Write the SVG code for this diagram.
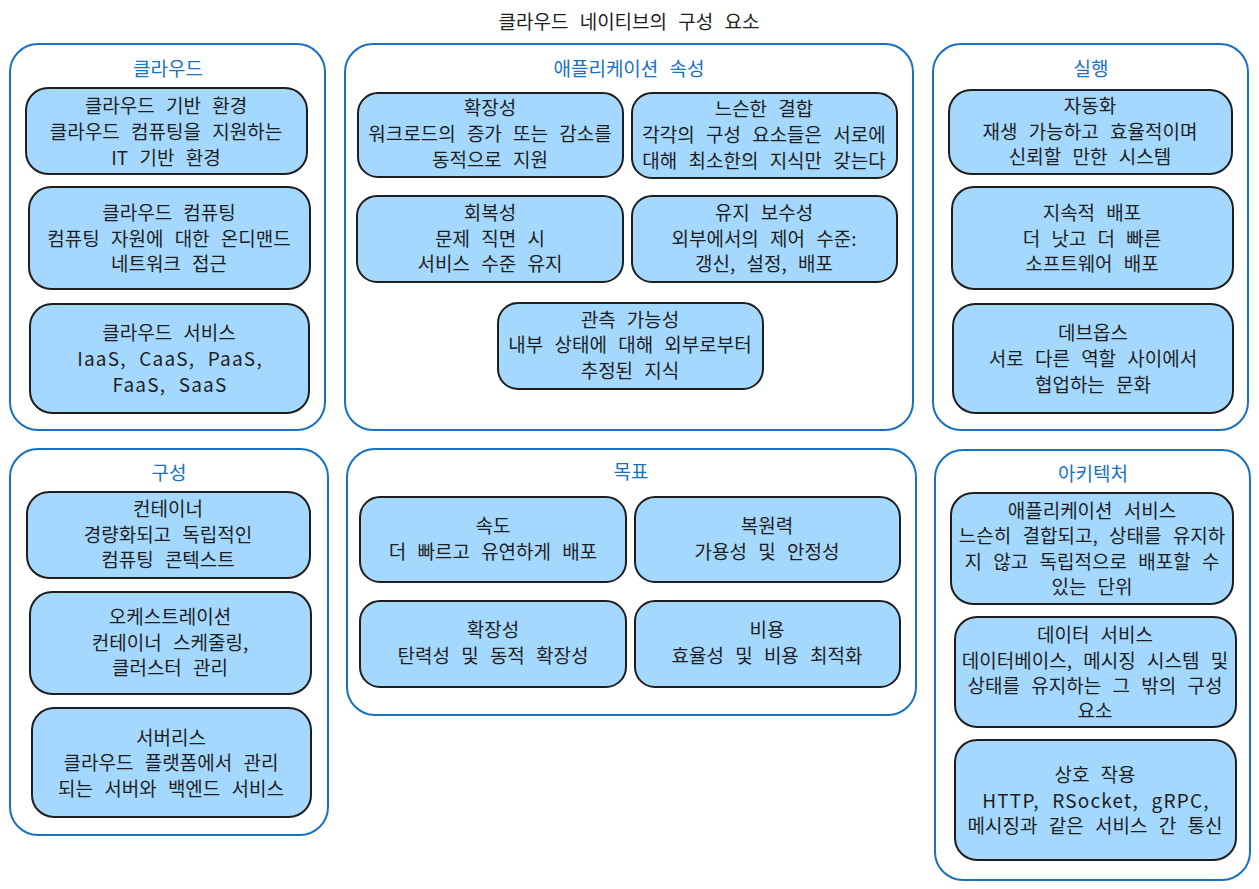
<svg xmlns="http://www.w3.org/2000/svg" width="1259" height="889" viewBox="0 0 1259 889">
<style>
.bg{fill:#ffffff}
.grp{fill:#ffffff;stroke:#1971c2;stroke-width:2}
.nd{fill:#a5d8ff;stroke:#1e1e1e;stroke-width:2}
text{font-family:"Noto Sans CJK KR","Noto Sans",sans-serif;font-size:19px;word-spacing:7px;fill:#1e1e1e;text-anchor:middle;dominant-baseline:central}
.gl{fill:#1971c2}
.lat{letter-spacing:1.2px}
</style>
<rect class="bg" x="0" y="0" width="1259" height="889"/>
<text x="629" y="20">클라우드 네이티브의 구성 요소</text>

<g id="grp-cloud">
<rect class="grp" x="10" y="44" width="315" height="386" rx="28"/>
<text class="gl" x="168" y="67">클라우드</text>
</g>
<g id="n-cloud-env">
<rect class="nd" x="26" y="88" width="281" height="86" rx="22"/>
<text x="166" y="104">클라우드 기반 환경</text>
<text x="166" y="130">클라우드 컴퓨팅을 지원하는</text>
<text x="166" y="156">IT 기반 환경</text>
</g>
<g id="n-cloud-comp">
<rect class="nd" x="29" y="187" width="281" height="102" rx="22"/>
<text x="169" y="211">클라우드 컴퓨팅</text>
<text x="169" y="237">컴퓨팅 자원에 대한 온디맨드</text>
<text x="169" y="262">네트워크 접근</text>
</g>
<g id="n-cloud-svc">
<rect class="nd" x="30" y="304" width="279" height="109" rx="22"/>
<text x="169" y="331">클라우드 서비스</text>
<text class="lat" x="170" y="357">IaaS, CaaS, PaaS,</text>
<text class="lat" x="170" y="383">FaaS, SaaS</text>
</g>

<g id="grp-app">
<rect class="grp" x="345" y="44" width="568" height="386" rx="28"/>
<text class="gl" x="629" y="67">애플리케이션 속성</text>
</g>
<g id="n-scal">
<rect class="nd" x="358" y="93" width="265" height="84" rx="20"/>
<text x="490" y="106">확장성</text>
<text x="490" y="132">워크로드의 증가 또는 감소를</text>
<text x="490" y="158">동적으로 지원</text>
</g>
<g id="n-loose">
<rect class="nd" x="632" y="93" width="265" height="85" rx="20"/>
<text x="764" y="107">느슨한 결합</text>
<text x="764" y="133">각각의 구성 요소들은 서로에</text>
<text x="764" y="159">대해 최소한의 지식만 갖는다</text>
</g>
<g id="n-resil">
<rect class="nd" x="357" y="196" width="266" height="86" rx="20"/>
<text x="490" y="211">회복성</text>
<text x="490" y="237">문제 직면 시</text>
<text x="490" y="262">서비스 수준 유지</text>
</g>
<g id="n-maint">
<rect class="nd" x="632" y="196" width="265" height="86" rx="20"/>
<text x="764" y="211">유지 보수성</text>
<text x="764" y="237">외부에서의 제어 수준:</text>
<text x="764" y="262">갱신, 설정, 배포</text>
</g>
<g id="n-observ">
<rect class="nd" x="498" y="303" width="265" height="86" rx="20"/>
<text x="630" y="318">관측 가능성</text>
<text x="630" y="343">내부 상태에 대해 외부로부터</text>
<text x="630" y="369">추정된 지식</text>
</g>

<g id="grp-exec">
<rect class="grp" x="933" y="44" width="315" height="386" rx="28"/>
<text class="gl" x="1091" y="67">실행</text>
</g>
<g id="n-auto">
<rect class="nd" x="949" y="90" width="283" height="84" rx="22"/>
<text x="1090" y="104">자동화</text>
<text x="1090" y="130">재생 가능하고 효율적이며</text>
<text x="1090" y="155">신뢰할 만한 시스템</text>
</g>
<g id="n-cd">
<rect class="nd" x="952" y="187" width="281" height="102" rx="22"/>
<text x="1092" y="211">지속적 배포</text>
<text x="1092" y="237">더 낫고 더 빠른</text>
<text x="1092" y="262">소프트웨어 배포</text>
</g>
<g id="n-devops">
<rect class="nd" x="953" y="304" width="280" height="109" rx="22"/>
<text x="1093" y="331">데브옵스</text>
<text x="1093" y="357">서로 다른 역할 사이에서</text>
<text x="1093" y="383">협업하는 문화</text>
</g>

<g id="grp-comp">
<rect class="grp" x="10" y="449" width="318" height="386" rx="28"/>
<text class="gl" x="169" y="471">구성</text>
</g>
<g id="n-container">
<rect class="nd" x="27" y="492" width="283" height="86" rx="22"/>
<text x="168" y="507">컨테이너</text>
<text x="168" y="533">경량화되고 독립적인</text>
<text x="168" y="558">컴퓨팅 콘텍스트</text>
</g>
<g id="n-orch">
<rect class="nd" x="30" y="592" width="281" height="102" rx="22"/>
<text x="170" y="615">오케스트레이션</text>
<text x="170" y="641">컨테이너 스케줄링,</text>
<text x="170" y="666">클러스터 관리</text>
</g>
<g id="n-serverless">
<rect class="nd" x="32" y="708" width="279" height="109" rx="22"/>
<text x="171" y="736">서버리스</text>
<text x="171" y="761">클라우드 플랫폼에서 관리</text>
<text x="171" y="787">되는 서버와 백엔드 서비스</text>
</g>

<g id="grp-goal">
<rect class="grp" x="347" y="449" width="569" height="266" rx="28"/>
<text class="gl" x="631" y="470">목표</text>
</g>
<g id="n-speed">
<rect class="nd" x="360" y="497" width="266" height="85" rx="20"/>
<text x="493" y="524">속도</text>
<text x="493" y="550">더 빠르고 유연하게 배포</text>
</g>
<g id="n-resilience">
<rect class="nd" x="635" y="497" width="265" height="85" rx="20"/>
<text x="767" y="524">복원력</text>
<text x="767" y="550">가용성 및 안정성</text>
</g>
<g id="n-scale2">
<rect class="nd" x="360" y="601" width="266" height="86" rx="20"/>
<text x="493" y="628">확장성</text>
<text x="493" y="654">탄력성 및 동적 확장성</text>
</g>
<g id="n-cost">
<rect class="nd" x="635" y="601" width="265" height="86" rx="20"/>
<text x="767" y="628">비용</text>
<text x="767" y="654">효율성 및 비용 최적화</text>
</g>

<g id="grp-arch">
<rect class="grp" x="935" y="450" width="315" height="430" rx="28"/>
<text class="gl" x="1093" y="472">아키텍처</text>
</g>
<g id="n-appsvc">
<rect class="nd" x="951" y="493" width="282" height="111" rx="22"/>
<text x="1092" y="509">애플리케이션 서비스</text>
<text x="1092" y="534">느슨히 결합되고, 상태를 유지하</text>
<text x="1092" y="560">지 않고 독립적으로 배포할 수</text>
<text x="1092" y="585">있는 단위</text>
</g>
<g id="n-datasvc">
<rect class="nd" x="955" y="617" width="281" height="110" rx="22"/>
<text x="1095" y="633">데이터 서비스</text>
<text x="1095" y="659">데이터베이스, 메시징 시스템 및</text>
<text x="1095" y="684">상태를 유지하는 그 밖의 구성</text>
<text x="1095" y="709">요소</text>
</g>
<g id="n-interact">
<rect class="nd" x="955" y="740" width="281" height="120" rx="22"/>
<text x="1095" y="773">상호 작용</text>
<text class="lat" x="1096" y="799">HTTP, RSocket, gRPC,</text>
<text x="1095" y="824">메시징과 같은 서비스 간 통신</text>
</g>
<g id="connectors"></g>
</svg>
